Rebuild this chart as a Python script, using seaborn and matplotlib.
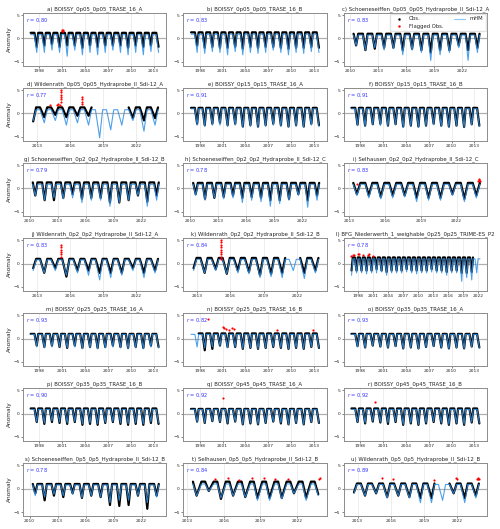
import numpy as np
import pandas as pd
import matplotlib
matplotlib.use("Agg")
import matplotlib.pyplot as plt
from matplotlib.lines import Line2D
from matplotlib.ticker import MultipleLocator, FormatStrFormatter
import seaborn as sns

# Titulos y correlaciones de cada panel
TITLES = [
    "a) BOISSY_0p05_0p05_TRASE_16_A", "b) BOISSY_0p05_0p05_TRASE_16_B",
    "c) Schoeneseiffen_0p05_0p05_Hydraprobe_II_Sdi-12_A",
    "d) Wildenrath_0p05_0p05_Hydraprobe_II_Sdi-12_A",
    "e) BOISSY_0p15_0p15_TRASE_16_A", "f) BOISSY_0p15_0p15_TRASE_16_B",
    "g) Schoeneseiffen_0p2_0p2_Hydraprobe_II_Sdi-12_B",
    "h) Schoeneseiffen_0p2_0p2_Hydraprobe_II_Sdi-12_C",
    "i) Selhausen_0p2_0p2_Hydraprobe_II_Sdi-12_C",
    "j) Wildenrath_0p2_0p2_Hydraprobe_II_Sdi-12_A",
    "k) Wildenrath_0p2_0p2_Hydraprobe_II_Sdi-12_B",
    "l) BFG_Niederwerth_1_weighable_0p25_0p25_TRIME-ES_P2",
    "m) BOISSY_0p25_0p25_TRASE_16_A", "n) BOISSY_0p25_0p25_TRASE_16_B",
    "o) BOISSY_0p35_0p35_TRASE_16_A", "p) BOISSY_0p35_0p35_TRASE_16_B",
    "q) BOISSY_0p45_0p45_TRASE_16_A", "r) BOISSY_0p45_0p45_TRASE_16_B",
    "s) Schoeneseiffen_0p5_0p5_Hydraprobe_II_Sdi-12_B",
    "t) Selhausen_0p5_0p5_Hydraprobe_II_Sdi-12_B",
    "u) Wildenrath_0p5_0p5_Hydraprobe_II_Sdi-12_B",
]
R_VALUES = [0.80, 0.83, 0.83, 0.77, 0.91, 0.91, 0.79, 0.78, 0.83, 0.83, 0.84,
            0.78, 0.93, 0.82, 0.93, 0.90, 0.92, 0.92, 0.78, 0.84, 0.89]

# Periodo (años decimales) de mHM y de las observaciones
MHM_START = [1996.7, 1996.7, 2010.0, 2012.35, 1996.7, 1996.7, 2010.0, 2010.0, 2013.1, 2012.35, 2012.35,
             1996.4, 1996.7, 1996.7, 1996.7, 1996.7, 1996.7, 1996.7, 2010.0, 2013.2, 2012.35]
MHM_END = [2013.8, 2013.8, 2023.95, 2024.1, 2013.8, 2013.8, 2023.95, 2023.95, 2024.0, 2024.1, 2024.1,
           2022.4, 2013.8, 2013.8, 2013.8, 2013.8, 2013.8, 2013.8, 2023.95, 2023.9, 2024.1]
OBS_START = [1996.8, 1996.8, 2010.0, 2012.35, 1996.8, 1996.8, 2010.0, 2010.0, 2013.1, 2012.35, 2012.35,
             1996.4, 1996.8, 1997.7, 1996.8, 1996.8, 1996.8, 1996.8, 2010.0, 2013.2, 2012.35]
OBS_END = [2013.8, 2013.8, 2023.9, 2024.1, 2013.8, 2013.8, 2023.9, 2023.9, 2024.0, 2024.1, 2024.1,
           2021.0, 2013.8, 2013.8, 2013.8, 2013.8, 2013.8, 2013.8, 2023.9, 2023.9, 2024.1]
FIRST_YEAR = [1996, 1996, 2010, 2012, 1996, 1996, 2010, 2010, 2013, 2012, 2012,
              1996, 1996, 1996, 1996, 1996, 1996, 1996, 2010, 2013, 2012]

# Nivel invernal (meseta) de cada serie
OBS_HIGH = [1.2, 1.3, 1.0, 1.3, 1.2, 1.2, 1.3, 1.2, 1.2, 1.0, 1.2,
            1.3, 1.0, 1.1, 1.0, 1.1, 1.0, 1.1, 1.0, 1.5, 1.1]
MHM_HIGH = [0.8, 0.9, 0.7, 0.8, 1.0, 1.0, 0.9, 0.9, 0.9, 0.8, 0.9,
            1.0, 0.9, 0.9, 0.9, 0.9, 0.9, 0.9, 0.8, 1.0, 0.9]

# Minimo estival de cada año (None = sin datos)
MHM_LOWS = [
    [-2.5, -3.0, -3.0, -2.5, -3.0, -3.8, -2.5, -3.5, -3.0, -3.5, -3.0, -2.5, -3.0, -3.5, -3.0, -3.5, -2.8, -3.0],
    [-2.5, -3.0, -3.2, -2.8, -3.0, -3.5, -2.8, -3.5, -3.0, -3.2, -3.0, -2.5, -3.0, -3.5, -3.0, -3.2, -2.8, -3.0],
    [-1.5, -2.5, -2.0, -2.5, -2.2, -3.5, -2.5, -3.0, -4.7, -3.5, -3.0, -2.0, -4.7, -3.0],
    [-1.5, -2.0, -1.5, -2.5, -2.0, -2.5, -5.2, -3.5, -2.5, -1.5, -3.8, -2.5, None],
    [-2.2, -2.5, -2.8, -2.5, -2.5, -2.8, -2.5, -3.0, -2.8, -3.0, -2.8, -2.5, -2.8, -3.0, -2.8, -3.0, -2.5, -2.8],
    [-2.2, -2.6, -2.8, -2.4, -2.6, -2.8, -2.4, -3.0, -2.8, -3.0, -2.7, -2.4, -2.8, -3.0, -2.7, -3.0, -2.5, -2.8],
    [-1.5, -2.5, -2.0, -2.2, -2.0, -3.0, -2.5, -2.5, -3.8, -3.0, -2.5, -1.5, -3.8, -2.5],
    [-1.5, -2.5, -2.0, -2.2, -2.0, -3.0, -2.5, -2.8, -3.8, -3.2, -2.5, -1.5, -4.0, -2.5],
    [-1.5, -2.0, -2.2, -2.0, -1.8, -2.8, -2.5, -2.5, -1.5, -2.8, -2.0],
    [-1.5, -2.0, -1.5, -2.5, -2.0, -2.5, -3.5, -3.0, -2.5, -1.5, -3.0, -2.0, None],
    [-1.5, -2.0, -1.5, -2.2, -2.0, -2.2, -3.0, -2.8, -3.0, -1.5, -3.2, -2.0, None],
    [-2.5, -2.0, -2.0, -2.2, -2.0, -2.0, -1.8, -2.5, -2.0, -2.0, -2.0, -1.8, -2.0,
     -2.2, -2.0, -2.0, -1.8, -2.0, -2.0, -2.5, -2.0, -2.0, -3.8, -3.0, -3.5, -2.0, -2.5],
    [-1.5, -1.8, -2.0, -1.8, -1.8, -2.0, -1.8, -2.2, -2.0, -2.2, -2.0, -1.8, -2.0, -2.2, -2.0, -2.2, -1.8, -2.0],
    [-1.5, -1.8, -2.0, -1.8, -1.6, -2.0, -1.8, -2.2, -2.0, -2.2, -2.0, -1.8, -2.0, -2.2, -2.0, -2.2, -1.8, -2.0],
    [-1.5, -1.8, -2.0, -1.6, -1.8, -2.0, -1.7, -2.2, -2.0, -2.2, -1.9, -1.7, -2.0, -2.2, -2.0, -2.2, -1.8, -2.0],
    [-1.5, -1.8, -2.0, -1.6, -1.8, -2.0, -1.7, -2.2, -2.0, -2.2, -1.9, -1.7, -2.0, -2.2, -2.0, -2.2, -1.8, -2.0],
    [-1.4, -1.8, -2.0, -1.6, -1.8, -2.0, -1.7, -2.3, -2.0, -2.3, -2.0, -1.7, -2.0, -2.3, -2.0, -2.3, -1.8, -2.0],
    [-1.4, -1.8, -2.0, -1.6, -1.8, -2.0, -1.7, -2.3, -2.0, -2.3, -2.0, -1.7, -2.0, -2.3, -2.0, -2.3, -1.8, -2.0],
    [-1.5, -1.8, -1.2, -1.5, -1.2, -2.0, -1.5, -1.8, -3.0, -2.5, -2.5, -1.5, -3.0, -1.8],
    [-1.5, -0.5, -2.0, -1.5, -1.8, -2.5, -2.5, -2.2, -1.0, -2.5, -1.5],
    [-1.0, -1.5, -1.0, -2.0, -1.5, -2.0, -3.0, -3.0, -2.5, -1.0, -3.0, -2.0, None],
]
OBS_LOWS = [
    [-1.5, -1.8, -1.5, -1.2, -1.8, -1.5, -1.5, -2.0, -1.5, -1.8, -1.5, -1.5, -1.5, -2.0, -1.5, -1.8, -1.5, -1.8],
    [-2.0, -1.5, -2.0, -1.8, -2.0, -2.0, -1.8, -2.2, -1.8, -2.0, -1.8, -1.8, -2.0, -2.2, -2.0, -2.0, -1.8, -2.0],
    [-1.5, -2.5, -2.2, -2.0, -2.0, -2.5, -2.2, -2.5, -3.0, -2.5, -2.5, -1.5, -2.5, -2.0],
    [-1.7, -0.8, -0.3, -0.8, -0.5, -0.5, None, None, None, -1.0, -1.5, -1.0, None],
    [-1.8, -2.2, -2.5, -2.2, -2.0, -2.5, -2.2, -2.8, -2.5, -2.8, -2.5, -2.2, -2.5, -2.8, -2.5, -2.8, -2.2, -2.5],
    [-2.0, -2.4, -2.6, -2.3, -2.2, -2.6, -2.3, -2.8, -2.6, -2.8, -2.6, -2.2, -2.6, -2.8, -2.6, -2.9, -2.3, -2.6],
    [-1.5, -2.5, -2.5, -2.0, -1.2, -2.2, -2.0, -2.0, -3.0, -3.0, -2.5, -1.5, -2.8, -1.5],
    [-1.2, -2.2, -2.0, -1.8, -1.5, -2.0, -1.8, -2.0, -2.5, -2.5, -2.2, -1.2, -2.5, -1.5],
    [-1.2, -1.5, -1.8, -1.5, -1.5, -2.0, -2.0, -2.0, -1.2, -2.2, -1.5],
    [-1.0, -2.0, -1.0, -2.8, -1.5, -1.5, -2.0, -2.0, -2.0, -1.0, -2.0, -1.5, None],
    [-1.0, -2.0, -1.2, -2.2, -1.5, -1.8, -2.5, -2.2, -2.0, None, -2.0, -1.5, None],
    [-1.5, -1.5, -1.5, -1.5, -1.5, -1.2, -1.5, -1.8, -1.5, -1.5, -1.5, -1.2, -1.5,
     -1.5, -1.5, -1.5, -1.2, -1.5, -1.5, -1.8, -1.5, -1.5, -2.0, -2.0, -1.8, None, None],
    [-1.2, -1.5, -1.8, -1.5, -1.8, -2.0, -1.5, -2.0, -1.8, -2.0, -1.8, -1.5, -1.8, -2.0, -1.8, -2.0, -1.5, -1.8],
    [None, -2.0, -2.5, -2.2, -1.5, -1.8, -1.8, -2.2, -2.0, -2.2, -2.0, -1.8, -2.0, -2.2, -2.0, -2.2, -1.8, -2.0],
    [-1.3, -1.6, -1.9, -1.5, -1.7, -1.9, -1.6, -2.1, -1.9, -2.1, -1.8, -1.6, -1.9, -2.1, -1.9, -2.1, -1.7, -1.9],
    [-1.5, -1.8, -2.2, -1.8, -2.0, -2.2, -1.8, -2.4, -2.2, -2.4, -2.0, -1.8, -2.2, -2.4, -2.2, -2.4, -2.0, -2.2],
    [-1.3, -1.7, -2.0, -1.6, -1.8, -2.1, -1.7, -2.3, -2.1, -2.3, -2.0, -1.7, -2.1, -2.3, -2.0, -2.3, -1.8, -2.0],
    [-1.4, -1.8, -2.1, -1.7, -1.9, -2.2, -1.8, -2.4, -2.1, -2.4, -2.1, -1.8, -2.1, -2.4, -2.1, -2.4, -1.9, -2.1],
    [-1.0, -2.5, -1.5, -1.8, -1.0, -2.0, -1.5, -1.8, -3.5, -3.7, -3.5, -1.5, -4.3, -1.5],
    [-1.5, -0.5, -2.2, -1.5, -1.8, -2.0, -2.0, -2.0, -1.0, -2.0, -1.2],
    [-0.8, -1.5, -1.0, -1.8, -1.5, -1.8, -2.0, -2.0, None, -1.0, -2.0, -1.5, None],
]

# Forma del ciclo anual: inicio del descenso, minimo, fin de la recuperacion (fraccion de año)
SHAPES = ["boissy", "boissy", "schoen", "wilden", "boissy", "boissy", "schoen", "schoen", "selh", "wilden",
          "wilden", "nieder", "boissy", "boissy", "boissy", "boissy", "boissy", "boissy", "schoen", "selh_deep",
          "wilden"]
SHAPE_POS = {"boissy": (0.35, 0.65, 0.85), "schoen": (0.35, 0.62, 0.85), "wilden": (0.3, 0.68, 0.95),
             "selh": (0.35, 0.65, 0.95), "selh_deep": (0.45, 0.75, 1.15), "nieder": (0.3, 0.65, 0.9)}

# Observaciones marcadas (año decimal, anomalia)
FLAGGED = [
    [(2000.95, 1.6), (2001.0, 1.8), (2001.05, 1.7), (2001.1, 1.6)],
    [],
    [],
    [(2014.2, 1.9), (2014.8, 1.8), (2014.95, 2.0), (2015.1, 1.9), (2015.15, 2.5), (2015.15, 3.0),
     (2015.15, 3.5), (2015.15, 4.0), (2015.15, 4.5), (2015.15, 5.0), (2017.05, 2.0), (2017.05, 2.5),
     (2017.05, 3.0), (2017.05, 3.5)],
    [], [], [], [],
    [(2013.7, 1.0), (2023.8, 1.5), (2023.85, 1.8), (2023.9, 2.0), (2023.95, 1.7)],
    [(2015.2, 1.5), (2015.2, 2.0), (2015.2, 2.5), (2015.2, 3.0), (2015.2, 3.5), (2015.2, 4.0)],
    [(2015.2, 1.0), (2015.2, 1.5), (2015.2, 2.0), (2015.2, 2.5), (2015.2, 3.0), (2015.2, 3.5),
     (2015.2, 4.0), (2015.2, 4.5), (2015.2, 5.0)],
    [(1996.5, 1.7), (1996.9, 1.8), (1997.1, 1.9), (1997.9, 2.0), (1998.1, 2.1), (1999.0, 1.8),
     (1999.9, 1.9), (2000.1, 2.0), (2001.0, 1.7)],
    [],
    [(1999.1, 4.2), (2001.0, 2.5), (2001.2, 2.2), (2001.5, 2.0), (2001.9, 1.9), (2002.2, 2.2),
     (2002.5, 2.0), (2008.2, 1.9), (2012.9, 1.8)],
    [], [],
    [(2001.1, 3.4)],
    [(1999.9, 2.5)],
    [],
    [(2015.3, 2.0), (2016.3, 2.3), (2017.2, 1.8), (2018.3, 2.2), (2019.3, 2.3), (2020.2, 2.0),
     (2021.3, 2.0), (2023.8, 2.0), (2023.9, 2.3)],
    [(2015.2, 2.2), (2016.2, 2.0), (2019.9, 1.8), (2021.9, 2.3), (2021.95, 2.0), (2023.8, 2.0),
     (2023.85, 2.1), (2023.9, 2.2), (2023.95, 2.0)],
]

OBS_COLOR = "black"
FLAG_COLOR = "red"
MHM_COLOR = "#2f8fe6"


def serie_anual(lows, high, first_year, start, end, shape):
    # puntos (meseta, minimo, meseta) por año, cortando el periodo
    d0, dmin, d1 = SHAPE_POS[shape]
    rows = []
    seg = 0
    for i, lo in enumerate(lows):
        yr = first_year + i
        if lo is None:
            seg += 1
            continue
        for t, v in ((yr + d0, high), (yr + dmin, lo), (yr + d1, high)):
            if start <= t <= end:
                rows.append((t, v, seg))
    return pd.DataFrame(rows, columns=["t", "v", "seg"])


sns.set_theme(style="ticks")
plt.rcParams["font.family"] = ["DejaVu Sans"]

fig, axes = plt.subplots(7, 3, figsize=(5.0, 5.29), dpi=100)
fig.subplots_adjust(left=0.046, right=0.974, top=0.976, bottom=0.025, wspace=0.12, hspace=0.42)

for k, ax in enumerate(axes.flat):
    mhm = serie_anual(MHM_LOWS[k], MHM_HIGH[k], FIRST_YEAR[k], MHM_START[k], MHM_END[k], SHAPES[k])
    obs = serie_anual(OBS_LOWS[k], OBS_HIGH[k], FIRST_YEAR[k], OBS_START[k], OBS_END[k], SHAPES[k])

    ax.axhline(0, color="#b0b0b0", lw=0.9, zorder=0)
    sns.lineplot(data=obs, x="t", y="v", units="seg", estimator=None, color=OBS_COLOR,
                 lw=1.6, ax=ax, zorder=2)
    sns.lineplot(data=mhm, x="t", y="v", units="seg", estimator=None, color=MHM_COLOR,
                 lw=0.8, alpha=0.85, ax=ax, zorder=3)
    if FLAGGED[k]:
        fl = pd.DataFrame(FLAGGED[k], columns=["t", "v"])
        sns.scatterplot(data=fl, x="t", y="v", color=FLAG_COLOR, s=2.5, linewidth=0, ax=ax, zorder=4)

    span = MHM_END[k] - MHM_START[k]
    ax.set_xlim(MHM_START[k] - 0.05 * span, MHM_END[k] + 0.05 * span)
    ax.set_ylim(-5.8, 5.5)
    ax.set_yticks([-5, 0, 5])
    ax.xaxis.set_major_locator(MultipleLocator(3))
    ax.xaxis.set_major_formatter(FormatStrFormatter("%d"))
    ax.grid(axis="x", color="#e6e6e6", lw=0.5)
    ax.set_xlabel("")
    ax.set_ylabel("Anomaly" if k % 3 == 0 else "", fontsize=4.2, labelpad=1)
    ax.set_title(TITLES[k], fontsize=3.9, pad=2)
    ax.tick_params(labelsize=3.2, length=1.5, width=0.4, pad=1)
    for sp in ax.spines.values():
        sp.set_color("#8c8c8c")
        sp.set_linewidth(0.7)
    ax.text(0.02, 0.94, f"$r$ = {R_VALUES[k]:.2f}", transform=ax.transAxes, color="#3030ff",
            fontsize=3.6, va="top", ha="left")

# Leyenda en el panel c
handles = [
    Line2D([], [], marker=".", ls="", color=OBS_COLOR, markersize=1.5, label="Obs."),
    Line2D([], [], marker=".", ls="", color=FLAG_COLOR, markersize=1.5, label="Flagged Obs."),
    Line2D([], [], color="#8ec8f5", lw=0.8, label="mHM"),
]
axes[0, 2].legend(handles=handles, ncol=2, loc="upper right", bbox_to_anchor=(1.0, 1.0),
                  fontsize=3.8, frameon=True, framealpha=0.8, edgecolor="#dddddd",
                  handlelength=2.2, columnspacing=2.0, borderpad=0.5, labelspacing=0.4,
                  borderaxespad=0.2)

fig.savefig("out.png", dpi=100)
